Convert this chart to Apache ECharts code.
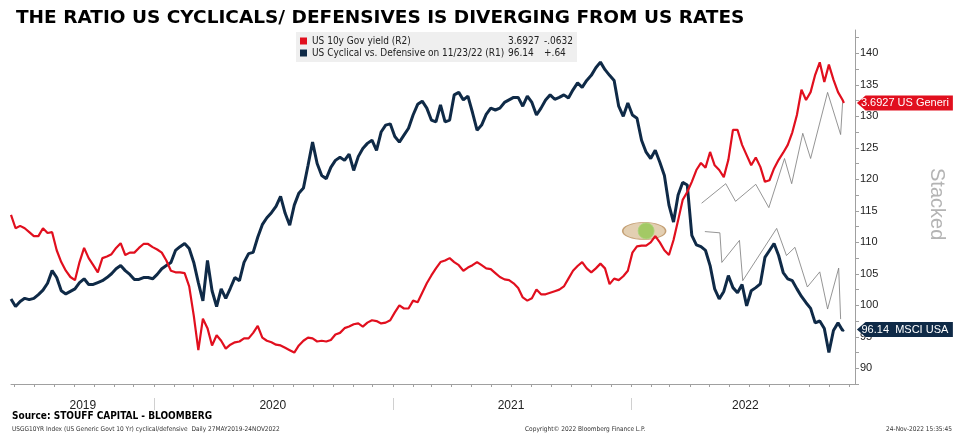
<!DOCTYPE html>
<html>
<head>
<meta charset="utf-8">
<script src="https://cdn.jsdelivr.net/npm/echarts@6/dist/echarts.min.js"></script>
<style>
html, body { margin: 0; padding: 0; background: #fff; }
#chart { width: 968px; height: 435px; }
</style>
</head>
<body>
<div id="chart"></div>
<script>
// weekly closes, 27 May 2019 -> 23 Nov 2022
const firstDay = [2019, 4, 27];
const lastDay = '2022-11-23';

// US Cyclical vs. Defensive (R1, right axis)
const cyclicalRatio = [
  101.0, 99.8, 100.6, 101.1, 100.9, 101.1, 101.7, 102.4, 103.5, 105.5,
  104.4, 102.3, 101.8, 102.2, 102.6, 103.6, 104.2, 103.3, 103.3, 103.6,
  103.9, 104.4, 105.0, 105.8, 106.3, 105.5, 104.9, 104.1, 104.1, 104.4,
  104.4, 104.2, 104.9, 105.8, 106.3, 106.8, 108.7, 109.3, 109.8, 109.0,
  106.8, 103.6, 100.7, 107.1, 102.3, 99.8, 102.6, 101.1, 102.7, 104.4,
  103.9, 106.8, 108.2, 108.4, 110.8, 112.8, 113.9, 114.7, 115.7, 117.3,
  114.6, 112.7, 115.9, 117.8, 118.6, 122.2, 125.9, 122.5, 120.6, 120.1,
  121.9, 123.0, 123.5, 123.0, 124.0, 121.4, 123.6, 124.9, 125.7, 126.2,
  124.6, 127.5, 128.6, 128.8, 126.8, 125.9, 127.0, 128.1, 130.2, 131.9,
  132.4, 131.3, 129.4, 129.1, 131.8, 129.1, 129.4, 133.4, 133.8, 132.6,
  133.2, 130.6, 127.8, 128.6, 130.3, 131.3, 131.0, 131.3, 132.2, 132.6,
  133.0, 133.0, 131.6, 133.2, 132.2, 130.2, 131.3, 132.6, 133.4, 132.7,
  133.0, 133.4, 132.9, 134.2, 135.3, 134.6, 135.7, 136.5, 137.7, 138.6,
  137.4, 136.5, 135.7, 131.6, 130.0, 132.1, 130.2, 129.7, 126.2, 124.3,
  123.3, 124.6, 122.7, 120.6, 115.9, 113.2, 117.5, 119.5, 119.1, 111.1,
  109.6, 109.3, 108.7, 106.3, 102.6, 101.0, 102.2, 104.7, 102.8, 102.0,
  103.3, 99.9, 102.3, 102.8, 103.4, 107.6, 108.7, 109.8, 107.9, 105.2,
  104.2, 103.9, 102.6, 101.4, 100.4, 99.5, 97.2, 97.5, 96.3, 92.5,
  96.0, 97.2, 96.0, 96.14
];

// US 10y Gov yield (R2, hidden axis)
const us10y = [
  2.27, 2.10, 2.13, 2.10, 2.05, 2.00, 2.00, 2.10, 2.04, 2.05,
  1.82, 1.67, 1.56, 1.48, 1.44, 1.67, 1.85, 1.72, 1.63, 1.54,
  1.72, 1.74, 1.77, 1.85, 1.91, 1.76, 1.79, 1.79, 1.85, 1.90,
  1.90, 1.86, 1.83, 1.79, 1.69, 1.56, 1.54, 1.54, 1.53, 1.36,
  0.99, 0.55, 0.95, 0.83, 0.61, 0.74, 0.67, 0.57, 0.62, 0.65,
  0.66, 0.70, 0.70, 0.77, 0.86, 0.71, 0.67, 0.65, 0.62, 0.61,
  0.58, 0.55, 0.52, 0.61, 0.67, 0.71, 0.70, 0.66, 0.67, 0.66,
  0.68, 0.75, 0.77, 0.83, 0.85, 0.88, 0.89, 0.85, 0.90, 0.93,
  0.92, 0.89, 0.90, 0.93, 1.03, 1.12, 1.08, 1.08, 1.18, 1.16,
  1.28, 1.40, 1.50, 1.59, 1.67, 1.69, 1.72, 1.67, 1.63, 1.56,
  1.60, 1.63, 1.67, 1.63, 1.59, 1.58, 1.53, 1.48, 1.45, 1.44,
  1.40, 1.34, 1.22, 1.18, 1.21, 1.32, 1.26, 1.26, 1.28, 1.30,
  1.32, 1.36, 1.46, 1.56, 1.62, 1.67, 1.59, 1.54, 1.59, 1.65,
  1.59, 1.39, 1.46, 1.44, 1.49, 1.56, 1.79, 1.87, 1.88, 1.88,
  1.92, 2.00, 1.92, 1.82, 1.76, 1.95, 2.20, 2.46, 2.56, 2.69,
  2.84, 2.93, 2.87, 3.07, 2.90, 2.84, 2.75, 2.97, 3.35, 3.35,
  3.16, 3.03, 2.90, 3.00, 2.88, 2.69, 2.71, 2.86, 2.97, 3.06,
  3.16, 3.32, 3.54, 3.86, 3.73, 3.83, 4.05, 4.21, 3.96, 4.18,
  3.99, 3.83, 3.73, 3.6927
];

// hand drawn projection zig-zags (on R1)
const upperPathDates = ['2022-04-19', '2022-05-26', '2022-06-10', '2022-07-11', '2022-07-31', '2022-08-24',
  '2022-09-04', '2022-09-21', '2022-10-03', '2022-10-29', '2022-11-18', '2022-11-21'];
const upperPathValues = [116.2, 119.3, 116.5, 119.2, 115.5, 123.3, 119.3, 127.3, 123.3, 133.8, 127.1, 132.2];
const lowerPathDates = ['2022-04-24', '2022-05-17', '2022-05-20', '2022-06-16', '2022-06-21', '2022-08-12',
  '2022-08-27', '2022-09-09', '2022-09-28', '2022-10-17', '2022-10-29', '2022-11-15', '2022-11-18'];
const lowerPathValues = [111.7, 111.5, 106.8, 110.3, 103.9, 112.2, 107.9, 109.2, 102.9, 105.3, 99.4, 105.9, 97.8];

// highlighted crossing point
const markerDates = ['2022-01-21', '2022-01-24'];
const markerValue = 111.8;

const ratioTicks = [90, 95, 100, 105, 110, 115, 120, 125, 130, 135, 140];
const yearLabels = ['2019', '2020', '2021', '2022'];
const yearLabelDates = ['2019-09-14', '2020-07-01', '2021-07-01', '2022-06-25'];
const yearStarts = ['2020-01-01', '2021-01-01', '2022-01-01'];

const yieldName = 'US 10y Gov yield (R2)';
const ratioName = 'US Cyclical vs. Defensive on 11/23/22 (R1)';
const legendNumbers = {};
legendNumbers[yieldName] = ['3.6927', '-.0632'];
legendNumbers[ratioName] = ['96.14', '+.64'];

const RED = '#e10f1e';
const NAVY = '#0f2a47';

// x is a plain value axis in epoch ms so the custom ticks work
const ts = s => new Date(s + 'T00:00:00').getTime();

let dates = [];
for (let k = 0; k < cyclicalRatio.length - 1; k++) {
    dates.push(new Date(firstDay[0], firstDay[1], firstDay[2] + 7 * k).getTime());
}
dates.push(ts(lastDay));

function zip(xs, ys) {
    return xs.map((x, i) => [typeof x === 'string' ? ts(x) : x, ys[i]]);
}

let monthTicks = [];
for (let m = 0; m < 43; m++) monthTicks.push(new Date(2019, 5 + m, 1).getTime());
let ratioMinor = [];
for (let v = 87.5; v <= 143; v += 2.5) ratioMinor.push(v);
const yearLabelTs = yearLabelDates.map(ts);

const xMin = new Date(2019, 4, 27).getTime();
const xMax = new Date(2022, 11, 10).getTime();

const tagPath = 'path://M0,50L9,0L100,0L100,100L9,100Z';
const nLast = dates.length - 1;

const chart = echarts.init(document.getElementById('chart'));

const option = {
    animation: false,
    title: {
        text: 'THE RATIO US CYCLICALS/ DEFENSIVES IS DIVERGING FROM US RATES',
        left: 11,
        top: 4,
        textStyle: {
            fontFamily: 'DejaVu Sans',
            fontWeight: 'bold',
            fontSize: 18.5,
            color: '#000'
        }
    },
    grid: { left: 11, right: 113, top: 30, bottom: 51, containLabel: false },
    legend: {
        data: [yieldName, ratioName],
        orient: 'vertical',
        left: 296,
        top: 32,
        itemWidth: 7,
        itemHeight: 7,
        itemGap: 2,
        icon: 'rect',
        padding: [4, 4, 4, 4],
        backgroundColor: '#efefef',
        selectedMode: false,
        formatter: function (name) {
            const n = legendNumbers[name];
            return '{n|' + name + '}{v|' + n[0] + '}{c|' + n[1] + '}';
        },
        textStyle: {
            fontFamily: 'DejaVu Sans Condensed',
            fontSize: 10,
            color: '#222',
            rich: {
                n: { width: 196, fontSize: 10, fontFamily: 'DejaVu Sans Condensed', color: '#222' },
                v: { width: 36, fontSize: 10, fontFamily: 'DejaVu Sans Condensed', color: '#222' },
                c: { width: 28, fontSize: 10, fontFamily: 'DejaVu Sans Condensed', color: '#222' }
            }
        }
    },
    xAxis: [
        {
            type: 'value',
            min: xMin,
            max: xMax,
            axisLine: { show: true, onZero: false, lineStyle: { color: '#a0a0a0', width: 1 } },
            axisTick: { show: true, customValues: monthTicks, length: 3, lineStyle: { color: '#a0a0a0' } },
            axisLabel: { show: false },
            splitLine: { show: false }
        },
        {
            type: 'value',
            min: xMin,
            max: xMax,
            position: 'bottom',
            offset: 14,
            axisLine: { show: false, onZero: false },
            axisTick: { show: true, customValues: yearStarts.map(ts), length: 12, lineStyle: { color: '#d0d0d0' } },
            axisLabel: {
                show: true,
                customValues: yearLabelTs,
                margin: 2,
                fontFamily: 'Liberation Sans',
                fontSize: 12,
                color: '#222',
                formatter: function (val) {
                    return yearLabels[yearLabelTs.indexOf(val)];
                }
            },
            splitLine: { show: false }
        }
    ],
    yAxis: [
        {
            type: 'value',
            position: 'right',
            min: 87.5,
            max: 143.7,
            axisLine: { show: true, lineStyle: { color: '#a0a0a0' } },
            axisTick: { show: true, customValues: ratioMinor, length: 4, lineStyle: { color: '#a0a0a0' } },
            axisLabel: {
                customValues: ratioTicks,
                margin: 5,
                fontFamily: 'Liberation Sans',
                fontSize: 11,
                color: '#222'
            },
            splitLine: { show: false }
        },
        {
            type: 'value',
            min: 0.12,
            max: 4.62,
            show: false,
            splitLine: { show: false }
        }
    ],
    graphic: [
        {
            type: 'text',
            left: 927,
            top: 168,
            rotation: -Math.PI / 2,
            style: { text: 'Stacked', fill: '#b4b4b4', font: '20px "Liberation Sans"' }
        },
        {
            type: 'text',
            left: 12,
            top: 411,
            style: { text: 'Source: STOUFF CAPITAL - BLOOMBERG', fill: '#000', font: 'bold 10px "DejaVu Sans Condensed"' }
        },
        {
            type: 'text',
            left: 12,
            top: 426,
            style: { text: 'USGG10YR Index (US Generic Govt 10 Yr) cyclical/defensive  Daily 27MAY2019-24NOV2022', fill: '#333', font: '6.5px "DejaVu Sans Condensed"' }
        },
        {
            type: 'text',
            left: 525,
            top: 426,
            style: { text: 'Copyright\u00a9 2022 Bloomberg Finance L.P.', fill: '#333', font: '6.5px "DejaVu Sans Condensed"' }
        },
        {
            type: 'text',
            right: 16,
            top: 426,
            style: { text: '24-Nov-2022 15:35:45', fill: '#333', font: '6.5px "DejaVu Sans Condensed"' }
        }
    ],
    series: [
        {
            name: 'marker',
            type: 'scatter',
            yAxisIndex: 0,
            z: 1,
            silent: true,
            data: [
                { value: [ts(markerDates[0]), markerValue], symbolSize: [43, 17], itemStyle: { color: '#dcc39f', borderColor: '#b98f5c', borderWidth: 1 } },
                { value: [ts(markerDates[1]), markerValue], symbolSize: 16, itemStyle: { color: '#93c852', borderColor: '#a9d47a', borderWidth: 1 } }
            ]
        },
        {
            name: ratioName,
            type: 'line',
            yAxisIndex: 0,
            z: 3,
            showSymbol: false,
            data: zip(dates, cyclicalRatio),
            itemStyle: { color: NAVY },
            lineStyle: { color: NAVY, width: 3 },
            markPoint: {
                symbol: tagPath,
                symbolSize: [96, 15],
                symbolKeepAspect: false,
                symbolOffset: [61, 0],
                silent: true,
                itemStyle: { color: NAVY },
                label: {
                    show: true,
                    position: 'inside',
                    color: '#fff',
                    fontFamily: 'Liberation Sans',
                    fontSize: 11,
                    formatter: legendNumbers[ratioName][0] + '  MSCI USA'
                },
                data: [{ coord: [dates[nLast], cyclicalRatio[nLast]] }]
            }
        },
        {
            name: yieldName,
            type: 'line',
            yAxisIndex: 1,
            z: 4,
            showSymbol: false,
            data: zip(dates, us10y),
            itemStyle: { color: RED },
            lineStyle: { color: RED, width: 2.2 },
            markPoint: {
                symbol: tagPath,
                symbolSize: [96, 15],
                symbolKeepAspect: false,
                symbolOffset: [61, 0],
                silent: true,
                itemStyle: { color: RED },
                label: {
                    show: true,
                    position: 'inside',
                    color: '#fff',
                    fontFamily: 'Liberation Sans',
                    fontSize: 11,
                    formatter: legendNumbers[yieldName][0] + ' US Generi'
                },
                data: [{ coord: [dates[nLast], us10y[nLast]] }]
            }
        },
        {
            name: 'upper path',
            type: 'line',
            yAxisIndex: 0,
            z: 2,
            showSymbol: false,
            silent: true,
            data: zip(upperPathDates, upperPathValues),
            lineStyle: { color: '#7a7a7a', width: 0.8 }
        },
        {
            name: 'lower path',
            type: 'line',
            yAxisIndex: 0,
            z: 2,
            showSymbol: false,
            silent: true,
            data: zip(lowerPathDates, lowerPathValues),
            lineStyle: { color: '#7a7a7a', width: 0.8 }
        }
    ]
};

chart.setOption(option);
window.addEventListener('resize', () => {
    chart.resize();
});
</script>
</body>
</html>
